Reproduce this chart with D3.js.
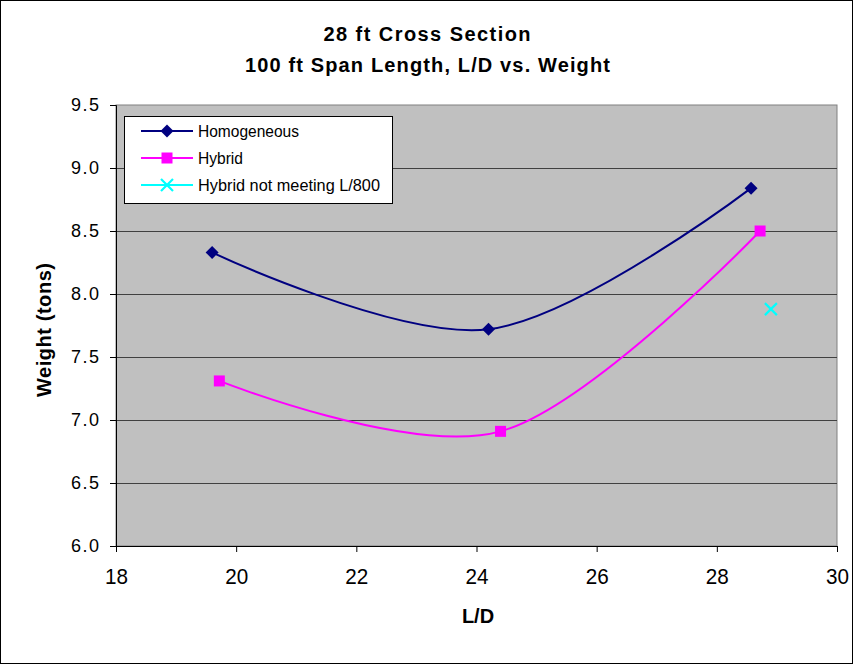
<script src="https://d3js.org/d3.v7.min.js"></script>
<body style="margin:0">
<script>
// values
const homoLD = [19.6, 24.2, 28.57];
const homoWt = [8.33, 7.72, 8.84];
const hybLD = [19.72, 24.4, 28.72];
const hybWt = [7.31, 6.91, 8.50];
const failLD = [28.9];
const failWt = [7.88];
const xTicks = [18, 20, 22, 24, 26, 28, 30];
const yTicks = [6.0, 6.5, 7.0, 7.5, 8.0, 8.5, 9.0, 9.5];
const seriesNames = ["Homogeneous", "Hybrid", "Hybrid not meeting L/800"];

const width = 854, height = 665;
const font = "'Liberation Sans', Arial, sans-serif";
const plotL = 116, plotR = 837, plotT = 105, plotB = 546;

var svg = d3.select("body").append("svg")
  .attr("width", width)
  .attr("height", height)
  .style("font-family", font);

svg.append("rect")
  .attr("x", 0.5).attr("y", 0.5)
  .attr("width", width - 2).attr("height", height - 2)
  .attr("fill", "white").attr("stroke", "black");

var x = d3.scaleLinear().domain([18, 30]).range([plotL, plotR]);
var y = d3.scaleLinear().domain([6, 9.5]).range([plotB, plotT]);

// plot area
svg.append("rect")
  .attr("x", plotL).attr("y", plotT)
  .attr("width", plotR - plotL).attr("height", plotB - plotT)
  .attr("fill", "#c0c0c0").attr("stroke", "#808080");

svg.append("g").selectAll("line")
  .data(yTicks.slice(1, -1))
  .enter().append("line")
  .attr("x1", plotL).attr("x2", plotR)
  .attr("y1", d => Math.round(y(d)) + 0.5).attr("y2", d => Math.round(y(d)) + 0.5)
  .attr("stroke", "#404040").attr("stroke-width", 1);

// axes
var xAxis = svg.append("g")
  .attr("transform", "translate(0," + plotB + ")")
  .call(d3.axisBottom(x).tickValues(xTicks).tickSize(6).tickPadding(16).tickFormat(d3.format("d")));
var yAxis = svg.append("g")
  .attr("transform", "translate(" + plotL + ",0)")
  .call(d3.axisLeft(y).tickValues(yTicks).tickSize(6).tickPadding(11).tickFormat(d3.format(".1f")));
[xAxis, yAxis].forEach(function(a) {
  a.select(".domain").attr("stroke", "black");
  a.selectAll(".tick line").attr("stroke", "black");
  a.selectAll(".tick text").attr("font-family", font).attr("fill", "black");
});
xAxis.selectAll(".tick text").attr("font-size", "22px")
  .attr("textLength", 23).attr("lengthAdjust", "spacingAndGlyphs");
yAxis.selectAll(".tick text").attr("font-size", "18px")
  .attr("textLength", 28).attr("lengthAdjust", "spacing");

// curves
var line = d3.line().curve(d3.curveCardinal.tension(0))
  .x(d => x(d[0])).y(d => y(d[1]));

var homo = homoLD.map((d, i) => [d, homoWt[i]]);
var hyb = hybLD.map((d, i) => [d, hybWt[i]]);
var fail = failLD.map((d, i) => [d, failWt[i]]);

svg.append("path").datum(homo).attr("d", line)
  .attr("fill", "none").attr("stroke", "#000080").attr("stroke-width", 2);
svg.append("path").datum(hyb).attr("d", line)
  .attr("fill", "none").attr("stroke", "#ff00ff").attr("stroke-width", 2);

function diamond(sel, cx, cy) {
  sel.append("path")
    .attr("d", "M" + cx + "," + (cy - 6.5) + "L" + (cx + 6.5) + "," + cy + "L" + cx + "," + (cy + 6.5) + "L" + (cx - 6.5) + "," + cy + "Z")
    .attr("fill", "#000080");
}
function square(sel, cx, cy) {
  sel.append("rect").attr("x", cx - 5.5).attr("y", cy - 5.5)
    .attr("width", 11).attr("height", 11).attr("fill", "#ff00ff");
}
function cross(sel, cx, cy) {
  sel.append("path")
    .attr("d", "M" + (cx - 6) + "," + (cy - 6) + "L" + (cx + 6) + "," + (cy + 6) + "M" + (cx + 6) + "," + (cy - 6) + "L" + (cx - 6) + "," + (cy + 6))
    .attr("stroke", "#00ffff").attr("stroke-width", 2.2);
}
homo.forEach(d => diamond(svg, x(d[0]), y(d[1])));
hyb.forEach(d => square(svg, x(d[0]), y(d[1])));
fail.forEach(d => cross(svg, x(d[0]), y(d[1])));

// legend
var lg = svg.append("g");
lg.append("rect").attr("x", 124.5).attr("y", 116.5).attr("width", 268).attr("height", 87)
  .attr("fill", "white").attr("stroke", "black");
var colors = ["#000080", "#ff00ff", "#00ffff"];
var markers = [diamond, square, cross];
var legW = [101, 45, 182];
seriesNames.forEach(function(name, i) {
  var ly = 131 + i * 27;
  lg.append("line").attr("x1", 141).attr("x2", 193).attr("y1", ly).attr("y2", ly)
    .attr("stroke", colors[i]).attr("stroke-width", 2);
  markers[i](lg, 167, ly);
  lg.append("text").attr("x", 198).attr("y", ly + 6)
    .attr("font-size", "16.5px")
    .attr("textLength", legW[i]).attr("lengthAdjust", "spacingAndGlyphs")
    .text(name);
});

// titles
svg.append("text").attr("x", 427).attr("y", 41).attr("text-anchor", "middle")
  .attr("font-size", "20px").attr("font-weight", "bold")
  .attr("textLength", 207).attr("lengthAdjust", "spacing")
  .text("28 ft Cross Section");
svg.append("text").attr("x", 427.5).attr("y", 72).attr("text-anchor", "middle")
  .attr("font-size", "20px").attr("font-weight", "bold")
  .attr("textLength", 365).attr("lengthAdjust", "spacing")
  .text("100 ft Span Length, L/D vs. Weight");
svg.append("text").attr("x", 478).attr("y", 623).attr("text-anchor", "middle")
  .attr("font-size", "20px").attr("font-weight", "bold").text("L/D");
svg.append("text").attr("transform", "translate(51,330) rotate(-90)").attr("text-anchor", "middle")
  .attr("font-size", "20px").attr("font-weight", "bold")
  .attr("textLength", 134).attr("lengthAdjust", "spacing")
  .text("Weight (tons)");
</script>
</body>
